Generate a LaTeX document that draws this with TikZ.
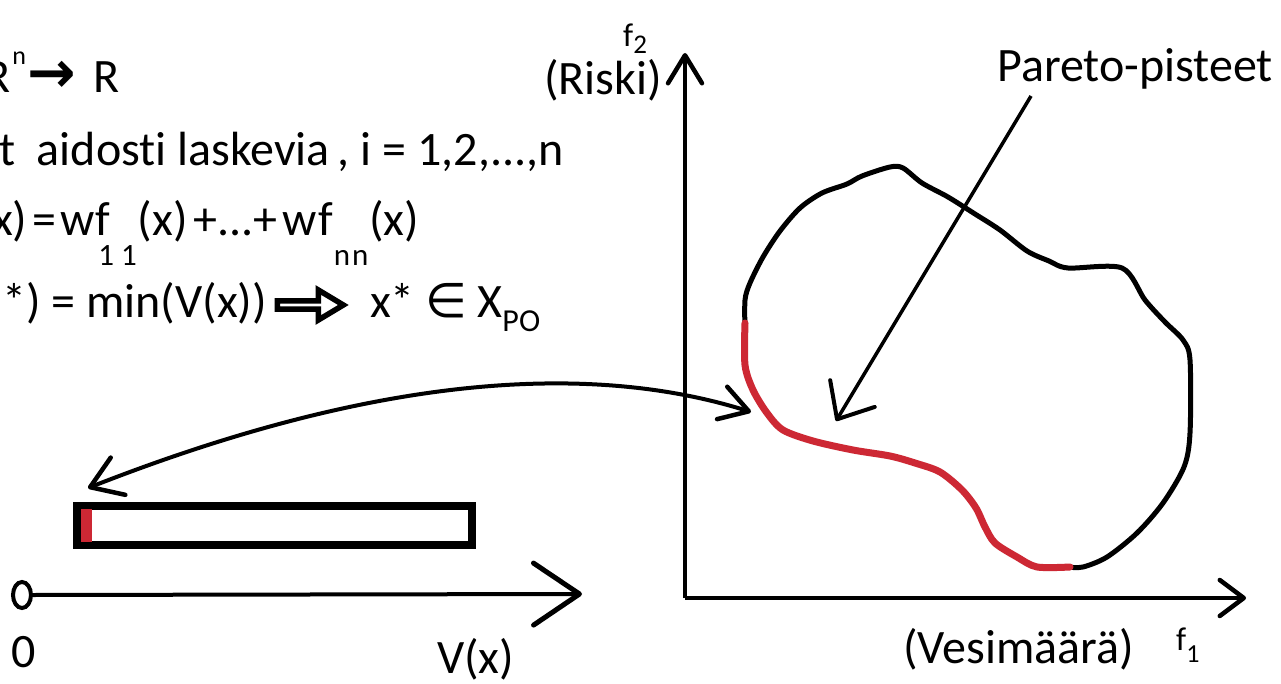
\documentclass[tikz,border=0pt]{standalone}
\usepackage{fontspec}
\setmainfont{Carlito}[Ligatures=CommonOff]
\newfontfamily\dejavu{DejaVu Sans}
\usetikzlibrary{arrows.meta,shapes.arrows,shapes.geometric}
\definecolor{pred}{RGB}{205,40,52}
\begin{document}
\begin{tikzpicture}[x=1pt,y=-1pt,
  txt/.style={font=\fontsize{48}{48}\selectfont, inner sep=0pt, anchor=base west},
  lbl/.style={font=\fontsize{33}{33}\selectfont, inner sep=0pt, anchor=base west},
  axisline/.style={line width=4pt},
  blobline/.style={line width=5pt, line cap=round, line join=round},
  redline/.style={line width=7pt, color=pred, line cap=round, line join=round},
  conn/.style={line width=3.5pt},
  tipY/.style={-{Straight Barb[round,length=28pt,width=34pt,line width=4.5pt]}},
  tipX/.style={-{Straight Barb[round,length=24pt,width=36pt,line width=4.5pt]}},
  tipV/.style={-{Straight Barb[round,length=46pt,width=62pt,line width=5pt]}},
  tipC/.style={{Straight Barb[round,length=30pt,width=40pt,line width=4.5pt]}-{Straight Barb[round,length=28pt,width=34pt,line width=4.5pt]}},
  tipP/.style={-{Straight Barb[round,length=30pt,width=52pt,line width=4pt]}}
]
\useasboundingbox (0,0) rectangle (1281,684);
\clip (0,0) rectangle (1281,684);
\fill[white] (0,0) rectangle (1281,684);

% ---- left formulas ----
\node[txt] (l1) at (-16,93) {R\kern2pt\raisebox{28pt}{\fontsize{26}{26}\selectfont n}\kern2pt{\dejavu\bfseries\fontsize{58}{58}\selectfont →}\kern17pt R};
\node[txt] (l2) at (-1,166) {t\hspace{0.45em}aidosti laskevia\,, i = 1,2,...,n};
\node[txt] (l3) at (-8,236) {x)\kern5pt=\kern4pt w\kern1pt f\kern-12pt\lower30pt\hbox{\fontsize{31}{31}\selectfont 1\kern7pt 1}\kern1pt(x)\kern6pt+...+\kern5pt w\kern1pt f\kern1pt\lower30pt\hbox{\fontsize{31}{31}\selectfont n\kern2pt n}\kern1pt(x)};
\node[txt] (l4a) at (2,317) {*) = min(V(x))};
\node[single arrow, draw, line width=5.5pt, minimum height=66pt, minimum width=30pt,
      single arrow head extend=7.5pt, single arrow tip angle=62, inner sep=0pt] (imp) at (307,305) {};
\node[txt] (l4b) at (370,317) {x* {\dejavu ∈}\kern10pt X\lower14pt\hbox{\fontsize{32}{32}\selectfont PO}};

% ---- bottom-left bar and axis ----
\node[draw, line width=8pt, minimum width=395pt, minimum height=39pt, inner sep=0pt] (bar) at (274.5,525.5) {};
\fill[pred] ([xshift=8pt,yshift=-7pt]bar.north west) rectangle ([xshift=19pt,yshift=7pt]bar.south west);
\node[ellipse, draw, line width=4pt, minimum width=18pt, minimum height=26pt, inner sep=0pt] (zero) at (22,595) {};
\coordinate (vtip) at (582,594);
\draw[axisline, tipV] (zero.east) -- (vtip);
\node[txt] (zlab) at (11,667) {0};
\node[txt] (vlab) at (437,673) {V(x)};

% ---- right axes ----
\coordinate (O) at (685,598);
\coordinate (ytip) at (685,53);
\coordinate (xtip) at (1246,598);
\draw[axisline, tipY] (O) -- (ytip);
\draw[axisline, tipX] (O) -- (xtip);
\node[lbl] (f2) at (623,47) {f\lower7pt\hbox{\fontsize{27}{27}\selectfont 2}};
\node[txt] (riski) at (544,95) {(Riski)};
\node[txt, anchor=base east] (vesi) at (1134,663) {(Vesimäärä)};
\node[lbl] (f1) at (1176,650) {f\lower12pt\hbox{\fontsize{26}{26}\selectfont 1}};

% ---- feasible region ----
\draw[blobline] plot[smooth, tension=0.5] coordinates {
 (745,330) (745,300) (750,283) (763,257) (780,231) (800,208) (822,193) (847,184) (862,176) (890,167)
 (903,168) (922,183) (948,197) (975,214) (1000,230) (1027,251) (1049,261) (1068,268) (1122,268)
 (1145,300) (1165,322) (1183,340) (1190,360) (1190,433) (1184,467) (1163,503) (1137,533) (1107,557)
 (1083,567) (1068,567)};
\draw[redline] plot[smooth, tension=0.5] coordinates {
 (745,323) (745,365) (753,390) (767,413) (783,430) (813,441) (853,450) (890,456) (915,463)
 (940,472) (962,490) (976,508) (985,527) (995,543) (1017,557) (1037,567) (1070,567)};

% ---- Pareto label and arrow ----
\node[txt] (pareto) at (997,82) {Pareto-pisteet};
\coordinate (pstart) at (1031,96);
\coordinate (ptip) at (836,421);
\draw[conn, tipP] (pstart) -- (ptip);

% ---- curved double arrow ----
\coordinate (cL) at (88,488);
\coordinate (cR) at (751,412);
\draw[conn, line width=4pt, tipC] (cL) .. controls (330,393) and (560,352) .. (cR);
\end{tikzpicture}
\end{document}
